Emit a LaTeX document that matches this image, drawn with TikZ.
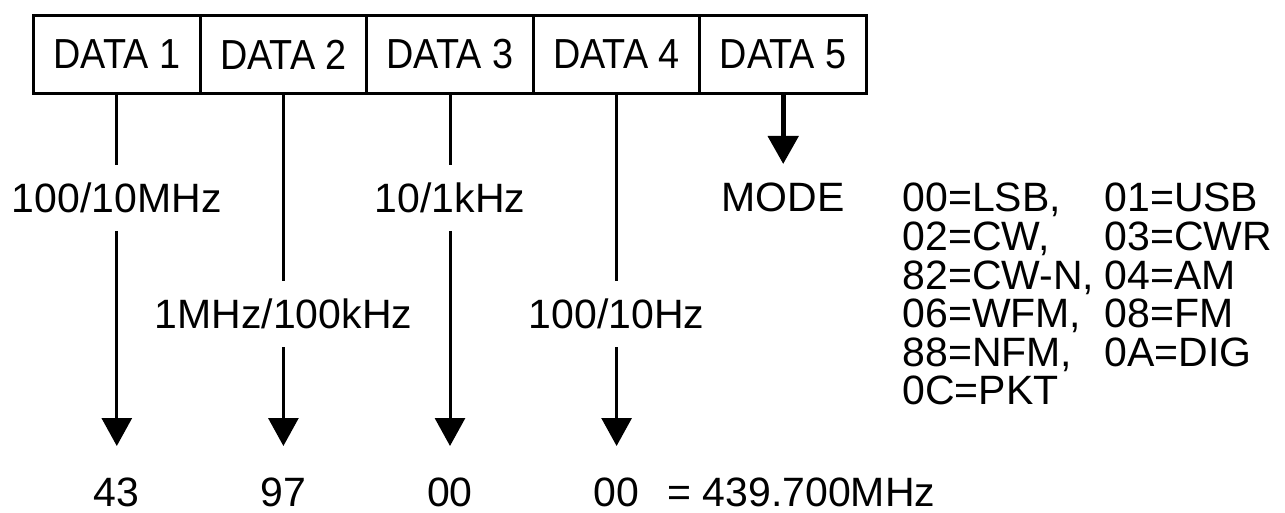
\documentclass[tikz,border=0pt]{standalone}
\usepackage{fontspec}
\setmainfont{Liberation Sans}
\newfontfamily\narrowfont[FakeStretch=0.9]{Liberation Sans}
\usepackage{tikz}
\usetikzlibrary{arrows.meta,positioning}

\begin{document}
\begin{tikzpicture}[x=1pt, y=-1pt, line width=3pt, >={Triangle[length=28pt, width=30pt]},
  databox/.style={draw, minimum width=166.6pt, minimum height=78pt, inner sep=0pt, outer sep=0pt,
    font={\narrowfont\fontsize{42}{48}\selectfont}},
  txt/.style={font={\fontsize{41}{46}\selectfont}, inner xsep=0pt, text height=29pt, text depth=0pt},
  digit/.style={txt, inner ysep=17pt},
  value/.style={txt, inner ysep=0pt}]
  \useasboundingbox (0,0) rectangle (1285,513);

  % Data bytes
  \node[databox] (d1) at (116.8,54.5) {DATA 1};
  \node[databox, right=0pt of d1] (d2) {DATA 2};
  \node[databox, right=0pt of d2] (d3) {DATA 3};
  \node[databox, right=0pt of d3] (d4) {DATA 4};
  \node[databox, right=0pt of d4] (d5) {DATA 5};

  % Digit labels
  \node[digit] (l1) at (d1 |- 0,198) {100/10MHz};
  \node[digit] (l2) at (d2 |- 0,314) {1MHz/100kHz};
  \node[digit] (l3) at (d3 |- 0,198) {10/1kHz};
  \node[digit] (l4) at (d4 |- 0,314) {100/10Hz};
  \node[digit] (mode) at (d5 |- 0,197) {MODE};

  % Values
  \node[value] (v1) at (d1 |- 0,492) {43};
  \node[value] (v2) at (d2 |- 0,492) {97};
  \node[value] (v3) at (d3 |- 0,492) {00};
  \node[value] (v4) at (d4 |- 0,492) {00};
  \node[value, inner sep=0pt, anchor=base west] (freq) at (666,506) {= 439.700MHz};

  % Connectors
  \foreach \i in {1,...,4} {
    \draw (d\i) -- (l\i);
    \draw[->, shorten >=30pt] (l\i) -- (v\i);
  }
  \draw[->, line width=5pt] (d5) -- (mode);

  % Mode codes
  \foreach \a/\b [count=\i] in {{00=LSB,}/01=USB, {02=CW,}/03=CWR, {82=CW-N,}/04=AM,
      {06=WFM,}/08=FM, {88=NFM,}/0A=DIG, 0C=PKT/{}}
    \node[txt, inner sep=0pt, anchor=base west] (m\i)
      at (901,{212+38.5*(\i-1)}) {\makebox[202pt][l]{\a}\b};
\end{tikzpicture}
\end{document}
